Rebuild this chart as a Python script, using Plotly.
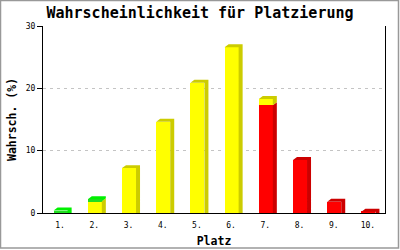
import plotly.graph_objects as go

places = ["1.", "2.", "3.", "4.", "5.", "6.", "7.", "8.", "9.", "10."]
red_vals = [0, 0, 0, 0, 0, 0, 17.3, 8.5, 1.8, 0.2]
yellow_vals = [0, 1.9, 7.2, 14.65, 20.9, 26.6, 1.0, 0, 0, 0]
green_vals = [0.4, 0.3, 0, 0, 0, 0, 0, 0, 0, 0]
y_ticks = [0, 10, 20, 30]

xpos = list(range(1, len(places) + 1))
series = [
    (red_vals, "#FF0000", "#CC0000"),
    (yellow_vals, "#FFFF00", "#CCCC00"),
    (green_vals, "#22DD22", "#00F000"),
]

OFF = -0.19   # front face offset (x units)
W = 0.41      # front face width
DX = 0.117    # 3D depth, x units
DY = 0.48     # 3D depth, y units

totals = [sum(s[0][i] for s in series) for i in range(len(places))]
base = [0.0] * len(places)

fig = go.Figure()
for vals, front, shade in series:
    xs, bs, vs = [], [], []
    sx, sy = [], []
    for i, v in enumerate(vals):
        if v <= 0:
            continue
        b = base[i]
        t = b + v
        xs.append(xpos[i]); bs.append(b); vs.append(v)
        L = xpos[i] + OFF
        R = L + W
        bot = b + DY if b > 0 else 0
        sx += [R, R + DX, R + DX, R, None]
        sy += [b, bot, t + DY, t, None]
        if abs(t - totals[i]) < 1e-9:
            sx += [L, L + DX, R + DX, R, None]
            sy += [t, t + DY, t + DY, t, None]
        base[i] = t
    fig.add_bar(x=xs, y=vs, base=bs, width=W, offset=OFF,
                marker=dict(color=front, line_width=0), hoverinfo="skip")
    fig.add_scatter(x=sx, y=sy, mode="none", fill="toself", fillcolor=shade,
                    hoverinfo="skip")

ML, MR, MT, MB = 43, 15, 26, 37
PW, PH = 400 - ML - MR, 250 - MT - MB

fig.update_layout(
    width=400, height=250,
    margin=dict(l=ML, r=MR, t=MT, b=MB, pad=0, autoexpand=False),
    paper_bgcolor="white", plot_bgcolor="white",
    showlegend=False,
    font=dict(family="DejaVu Sans Mono", color="black"),
    title=dict(text="Wahrscheinlichkeit für Platzierung",
               font=dict(size=15, weight="bold", color="black"),
               x=0.5, xref="container", xanchor="center",
               y=1 - 13 / 250, yref="container", yanchor="middle"),
    xaxis=dict(range=[0.5, 10.5], tickmode="array", tickvals=xpos, ticktext=places,
               showline=True, linecolor="black", linewidth=1, showgrid=False,
               zeroline=False, ticks="", tickfont=dict(size=8),
               ticklabelstandoff=4, automargin=False,
               title=dict(text="Platz", font=dict(size=11.5, weight="bold"), standoff=8)),
    yaxis=dict(range=[0, 30], tickmode="array", tickvals=y_ticks,
               showline=True, mirror=True, linecolor="black", linewidth=1,
               ticks="outside", ticklen=5, tickcolor="black", tickwidth=1,
               showgrid=True, gridcolor="#C4C4C4", griddash="3px,4px", gridwidth=1,
               zeroline=False, tickfont=dict(size=8), automargin=False,
               title=dict(text="Wahrsch. (%)", font=dict(size=11.5, weight="bold"), standoff=6)),
    bargap=0,
)

fig.add_shape(type="rect", xref="paper", yref="paper",
              x0=(0.5 - ML) / PW, x1=(398.5 - ML) / PW,
              y0=(250 - MB - 248) / PH, y1=(250 - MB - 0.5) / PH,
              line=dict(color="#999999", width=1.5), fillcolor="rgba(0,0,0,0)",
              layer="below")

fig.write_html("out.html")
